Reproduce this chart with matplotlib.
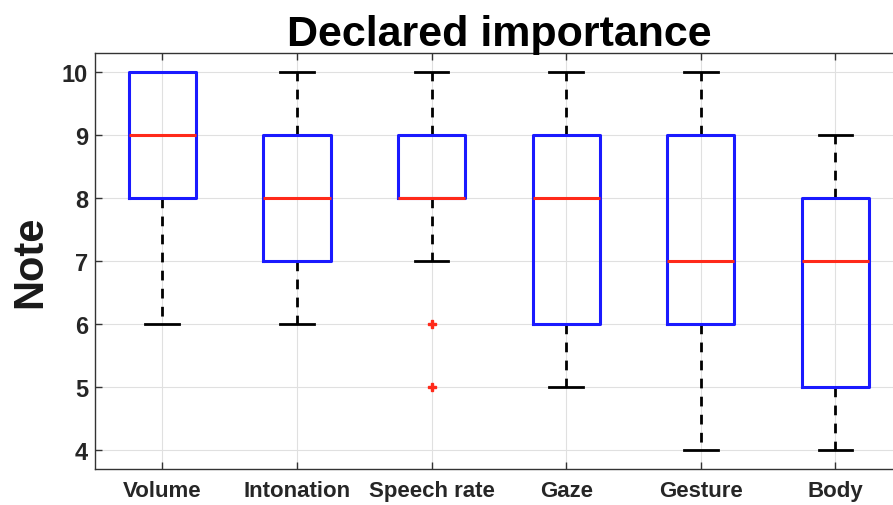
import matplotlib.pyplot as plt

plt.rcParams['font.family'] = ['Liberation Sans', 'DejaVu Sans']

categories = ['Volume', 'Intonation', 'Speech rate', 'Gaze', 'Gesture', 'Body']
q1 = [8, 7, 8, 6, 6, 5]
medians = [9, 8, 8, 8, 7, 7]
q3 = [10, 9, 9, 9, 9, 8]
whisker_low = [6, 6, 7, 5, 4, 4]
whisker_high = [10, 10, 10, 10, 10, 9]
outliers = [[], [], [6, 5], [], [], []]

stats = []
for i, name in enumerate(categories):
    stats.append(dict(label=name, med=medians[i], q1=q1[i], q3=q3[i],
                      whislo=whisker_low[i], whishi=whisker_high[i],
                      fliers=outliers[i]))

fig = plt.figure(figsize=(8.93, 5.06), dpi=100)
ax = fig.add_axes([0.1064, 0.0711, 0.9045, 0.822])

parts = ax.bxp(stats, widths=0.5, showfliers=True,
               boxprops=dict(color='#1a1aff', linewidth=2.2),
               medianprops=dict(color='#ff2a1a', linewidth=2.2),
               whiskerprops=dict(color='black', linewidth=2.0, linestyle=(0, (3.5, 3))),
               capprops=dict(color='black', linewidth=2.0),
               capwidths=0.25,
               flierprops=dict(marker='P', markersize=6, markerfacecolor='#ff2a1a',
                               markeredgecolor='#ff2a1a', linestyle='none'))
# boxes drawn over the caps, like the original
for b in parts['boxes']:
    b.set_zorder(3)
for m in parts['medians']:
    m.set_zorder(4)

ax.set_xlim(0.5, 6.5)
ax.set_ylim(3.7, 10.3)
ax.set_yticks([4, 5, 6, 7, 8, 9, 10])
ax.grid(True, color='#e0e0e0', linewidth=0.8)
ax.set_axisbelow(True)
ax.tick_params(direction='in', top=True, right=True, length=5, width=1,
               color='#333333')
ax.tick_params(axis='x', pad=8, labelsize=16)
ax.tick_params(axis='y', pad=5, labelsize=17)
for lab in ax.get_xticklabels() + ax.get_yticklabels():
    lab.set_fontweight('bold')
    lab.set_color('#262626')
for s in ax.spines.values():
    s.set_color('#333333')
    s.set_linewidth(1.0)

ax.set_title('Declared importance', fontsize=31, fontweight='bold', pad=6)
ax.set_ylabel('Note', fontsize=30, fontweight='bold', labelpad=8, color='#1a1a1a')

fig.savefig('out.png', dpi=100)
